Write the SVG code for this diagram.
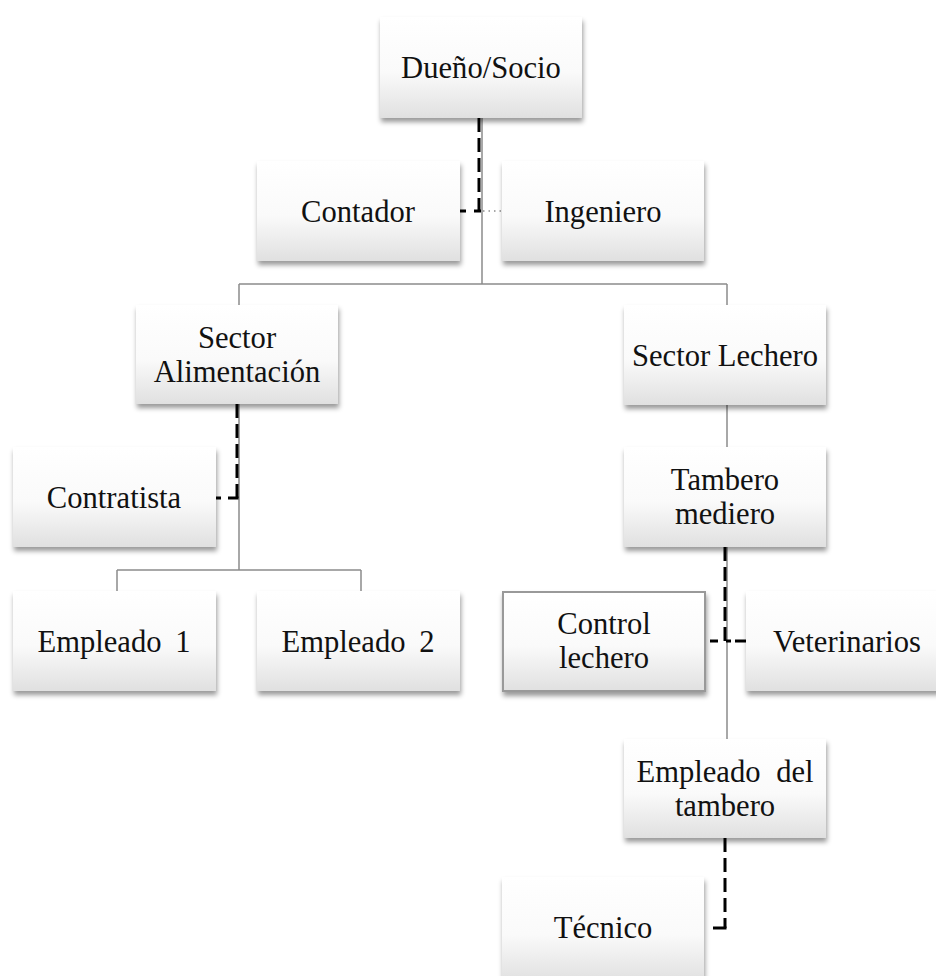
<svg xmlns="http://www.w3.org/2000/svg" width="936" height="976" viewBox="0 0 936 976">
<defs>
<linearGradient id="g" x1="0" y1="0" x2="0" y2="1">
<stop offset="0" stop-color="#ffffff"/>
<stop offset="0.55" stop-color="#fafafa"/>
<stop offset="1" stop-color="#e0e0e0"/>
</linearGradient>
<filter id="sh" x="-10%" y="-10%" width="125%" height="130%">
<feDropShadow dx="1" dy="4" stdDeviation="2.5" flood-color="#000" flood-opacity="0.4"/>
</filter>
<style>
.box{fill:url(#g);filter:url(#sh);}
.bord{stroke:#999;stroke-width:2;}
.t{font-family:"Liberation Serif","Times New Roman",serif;font-size:30.6px;fill:#111;text-anchor:middle;}
.solid{fill:none;stroke:#8c8c8c;stroke-width:1.5;}
.dash{fill:none;stroke:#000;stroke-width:3;stroke-dasharray:14,6;}
.blk{fill:none;stroke:#000;stroke-width:3;}
.dot{fill:none;stroke:#8c8c8c;stroke-width:1.3;stroke-dasharray:1.5,4;}
</style>
</defs>
<rect width="936" height="976" fill="#fff"/>
<g id="connectors">
<path class="solid" d="M482 118V284M239 284H727M239 284V305M727 284V305"/>
<path class="solid" d="M239 404V570M117 570H361M117 570V591M361 570V591"/>
<path class="solid" d="M727 405V447M727 547V739"/>
<path class="dash" d="M479 118V211"/>
<path class="blk" d="M481 211H474M466 211H460"/>
<path class="dot" d="M483 211H502"/>
<path class="dash" d="M237 404V498"/>
<path class="blk" d="M238.5 498H228M221 498H216"/>
<path class="dash" d="M725 547V641"/>
<path class="blk" d="M718 641H710M726 641H731M735 641H746"/>
<path class="dash" d="M725 838V928"/>
<path class="blk" d="M726.5 928H713"/>
</g>
<g id="n-dueno"><rect class="box" x="380" y="17" width="202" height="101"/><text class="t" x="481" y="78">Dueño/Socio</text></g>
<g id="n-contador"><rect class="box" x="257" y="161" width="203" height="100"/><text class="t" x="358" y="222">Contador</text></g>
<g id="n-ingeniero"><rect class="box" x="502" y="161" width="202" height="100"/><text class="t" x="603" y="222">Ingeniero</text></g>
<g id="n-alimentacion"><rect class="box" x="136" y="305" width="202" height="99"/><text class="t" x="237" y="348">Sector</text><text class="t" x="237" y="382">Alimentación</text></g>
<g id="n-lechero"><rect class="box" x="624" y="305" width="202" height="100"/><text class="t" x="725" y="366">Sector Lechero</text></g>
<g id="n-contratista"><rect class="box" x="13" y="447" width="203" height="100"/><text class="t" x="114" y="508">Contratista</text></g>
<g id="n-tambero"><rect class="box" x="624" y="447" width="202" height="100"/><text class="t" x="725" y="490">Tambero</text><text class="t" x="725" y="524">mediero</text></g>
<g id="n-empleado1"><rect class="box" x="13" y="591" width="203" height="100"/><text class="t" x="114" y="652" word-spacing="6">Empleado 1</text></g>
<g id="n-empleado2"><rect class="box" x="257" y="591" width="203" height="100"/><text class="t" x="358" y="652" word-spacing="6">Empleado 2</text></g>
<g id="n-control"><rect class="box bord" x="503" y="592" width="202" height="99"/><text class="t" x="604" y="634">Control</text><text class="t" x="604" y="668">lechero</text></g>
<g id="n-veterinarios"><rect class="box" x="746" y="591" width="202" height="100"/><text class="t" x="847" y="652">Veterinarios</text></g>
<g id="n-empleadotambero"><rect class="box" x="624" y="739" width="202" height="99"/><text class="t" x="725" y="782" word-spacing="8">Empleado del</text><text class="t" x="725" y="816">tambero</text></g>
<g id="n-tecnico"><rect class="box" x="502" y="877" width="202" height="105"/><text class="t" x="603" y="938">Técnico</text></g>
</svg>
